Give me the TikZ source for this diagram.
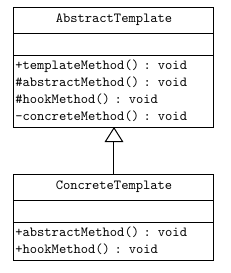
\documentclass[tikz,border=0pt]{standalone}
\usepackage{fontspec}
\usetikzlibrary{positioning,arrows.meta}
\tikzset{
  part/.style={draw, line width=0.75pt, minimum width=150pt, inner sep=0pt, outer sep=0pt,
    font=\fontsize{10.4}{12.75}\selectfont\ttfamily},
  namepart/.style={part, minimum height=19.5pt},
  attrpart/.style={part, minimum height=16.5pt},
  opspart/.style={part, text width=148pt, inner xsep=1pt, align=left},
  inherit/.style={line width=0.75pt, -{Triangle[open, length=11.25pt, width=14pt, line width=0.75pt]}}
}
\begin{document}
\begin{tikzpicture}[x=0.75pt, y=-0.75pt]
  \useasboundingbox (0,0) rectangle (231,273);
  % abstract class
  \node[namepart] (absname) at (114,20) {AbstractTemplate};
  \node[attrpart, below=0pt of absname] (absattr) {};
  \node[opspart, minimum height=54pt, below=0pt of absattr] (absops)
    {+templateMethod() : void\\
     \#abstractMethod() : void\\
     \#hookMethod() : void\\
     -concreteMethod() : void};
  % concrete class
  \node[namepart] (concname) at (114,187) {ConcreteTemplate};
  \node[attrpart, below=0pt of concname] (concattr) {};
  \node[opspart, minimum height=28.5pt, below=0pt of concattr] (concops)
    {+abstractMethod() : void\\
     +hookMethod() : void};
  \draw[inherit] (concname.north) -- (absops.south);
\end{tikzpicture}
\end{document}
